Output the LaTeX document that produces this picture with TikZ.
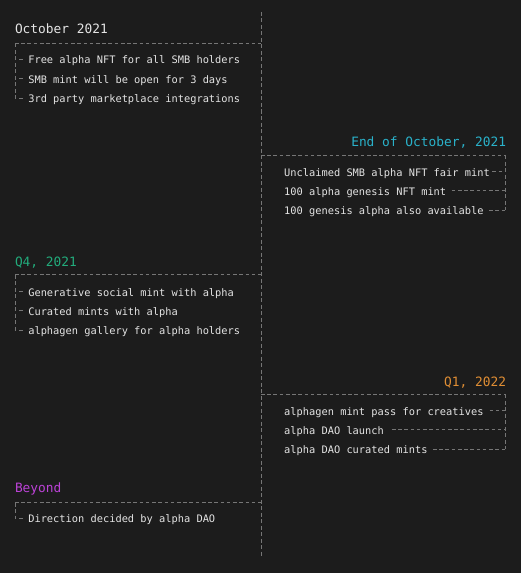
\documentclass[tikz,border=0pt]{standalone}
\usepackage{fontspec}
\setmonofont{DejaVu Sans Mono}
\usetikzlibrary{calc}
\definecolor{bg}{HTML}{1C1C1C}
\definecolor{fg}{HTML}{E4E4E4}
\definecolor{dashc}{HTML}{767676}
\definecolor{cyanT}{HTML}{2AB2CA}
\definecolor{greenT}{HTML}{22AC7C}
\definecolor{orangeT}{HTML}{E08E34}
\definecolor{magT}{HTML}{BB42D6}
\begin{document}
\begin{tikzpicture}[x=1bp,y=-1bp,
 title/.style={font=\ttfamily\fontsize{12.85bp}{15bp}\selectfont, inner sep=0pt, outer sep=0pt},
 item/.style={font=\ttfamily\fontsize{10.35bp}{12bp}\selectfont, text=fg, inner sep=0pt, outer sep=0pt, text height=8.8bp, text depth=0pt, anchor=base west},
 hdash/.style={draw=dashc, line width=0.9bp, dash pattern=on 3.6bp off 2.63bp},
 vdash/.style={draw=dashc, line width=0.9bp, dash pattern=on 4bp off 2.5bp},
 tick/.style={draw=dashc, line width=0.9bp},
]
\fill[bg] (0,0) rectangle (521,573);
\useasboundingbox (0,0) rectangle (521,573);

% spine
\coordinate (spT) at (261,12);
\coordinate (spB) at (261,557);
\draw[vdash] (spT) -- (spB);

% ---- October 2021 (left)
\node[title, text=fg, anchor=base west] (t1) at (15,34) {October 2021};
\coordinate (h1L) at (15,43.3);
\coordinate (h1R) at (261,43.3);
\node[item] (a1) at (28.3,64) {Free alpha NFT for all SMB holders};
\node[item] (a2) at (28.3,83.3) {SMB mint will be open for 3 days};
\node[item] (a3) at (28.3,102.7) {3rd party marketplace integrations};
\draw[hdash] (h1L) -- (h1R);
\draw[vdash] (h1L) -- (h1L |- a3.west) -- ++(1.5,0);
\foreach \n in {a1,a2,a3}{\draw[tick] ($(\n.west)+(-9.3,0)$) -- ($(\n.west)+(-5.8,0)$);}

% ---- End of October, 2021 (right)
\node[title, text=cyanT, anchor=base east] (t2) at (506,146.7) {End of October, 2021};
\coordinate (h2L) at (261,155);
\coordinate (h2R) at (505,155);
\node[item] (b1) at (284.2,176) {Unclaimed SMB alpha NFT fair mint};
\node[item] (b2) at (284.2,195.3) {100 alpha genesis NFT mint};
\node[item] (b3) at (284.2,214.7) {100 genesis alpha also available};
\draw[hdash] (h2L) -- (h2R);
\draw[vdash] (h2R) -- (h2R |- b3.east);
\draw[hdash] ($(b1.east)+(2.5,0)$) -- (b1.east -| h2R);
\draw[hdash] ($(b2.east)+(5.5,0)$) -- (b2.east -| h2R);
\draw[hdash] ($(b3.east)+(5.5,0)$) -- (b3.east -| h2R);

% ---- Q4, 2021 (left)
\node[title, text=greenT, anchor=base west] (t3) at (15,266.7) {Q4, 2021};
\coordinate (h3L) at (15,274.7);
\coordinate (h3R) at (261,274.7);
\node[item] (c1) at (28.3,296) {Generative social mint with alpha};
\node[item] (c2) at (28.3,315.3) {Curated mints with alpha};
\node[item] (c3) at (28.3,334.7) {alphagen gallery for alpha holders};
\draw[hdash] (h3L) -- (h3R);
\draw[vdash] (h3L) -- (h3L |- c3.west) -- ++(1.5,0);
\foreach \n in {c1,c2,c3}{\draw[tick] ($(\n.west)+(-9.3,0)$) -- ($(\n.west)+(-5.8,0)$);}

% ---- Q1, 2022 (right)
\node[title, text=orangeT, anchor=base east] (t4) at (506,386.7) {Q1, 2022};
\coordinate (h4L) at (261,394);
\coordinate (h4R) at (505,394);
\node[item] (d1) at (284.2,415) {alphagen mint pass for creatives};
\node[item] (d2) at (284.2,434.3) {alpha DAO launch};
\node[item] (d3) at (284.2,453.7) {alpha DAO curated mints};
\draw[hdash] (h4L) -- (h4R);
\draw[vdash] (h4R) -- (h4R |- d3.east);
\draw[hdash] ($(d1.east)+(6,0)$) -- (d1.east -| h4R);
\draw[hdash] ($(d2.east)+(8,0)$) -- (d2.east -| h4R);
\draw[hdash] ($(d3.east)+(5.5,0)$) -- (d3.east -| h4R);

% ---- Beyond (left)
\node[title, text=magT, anchor=base west] (t5) at (15,492.7) {Beyond};
\coordinate (h5L) at (15,502.7);
\coordinate (h5R) at (261,502.7);
\node[item] (e1) at (28.3,522.7) {Direction decided by alpha DAO};
\draw[hdash] (h5L) -- (h5R);
\draw[vdash] (h5L) -- (h5L |- e1.west) -- ++(1.5,0);
\draw[tick] ($(e1.west)+(-9.3,0)$) -- ($(e1.west)+(-5.8,0)$);
\end{tikzpicture}
\end{document}
